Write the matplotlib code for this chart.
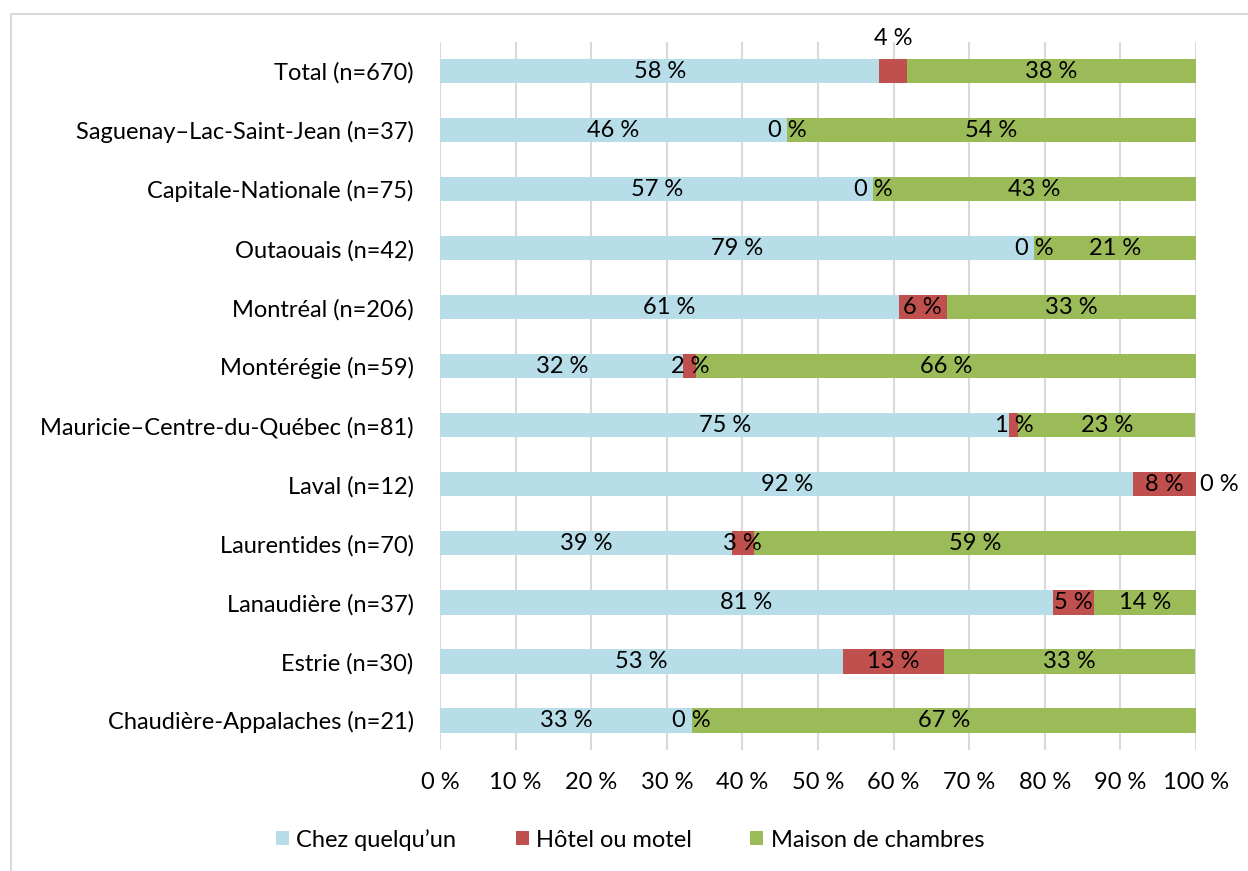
import matplotlib.pyplot as plt
from matplotlib.lines import Line2D
import numpy as np

plt.rcParams['font.family'] = ['Lato', 'DejaVu Sans']

# Données (%)
regions = ['Total (n=670)', 'Saguenay–Lac-Saint-Jean (n=37)', 'Capitale-Nationale (n=75)',
           'Outaouais (n=42)', 'Montréal (n=206)', 'Montérégie (n=59)',
           'Mauricie–Centre-du-Québec (n=81)', 'Laval (n=12)', 'Laurentides (n=70)',
           'Lanaudière (n=37)', 'Estrie (n=30)', 'Chaudière-Appalaches (n=21)']
chez_quelquun = [58.1, 45.9, 57.3, 78.6, 60.7, 32.2, 75.3, 91.7, 38.6, 81.1, 53.3, 33.3]
hotel_motel = [3.6, 0.0, 0.0, 0.0, 6.3, 1.7, 1.2, 8.3, 2.9, 5.4, 13.3, 0.0]
maison_chambres = [38.3, 54.1, 42.7, 21.4, 33.0, 66.1, 23.4, 0.0, 58.6, 13.5, 33.3, 66.7]
series_noms = ['Chez quelqu’un', 'Hôtel ou motel', 'Maison de chambres']
couleurs = ['#B7DDE8', '#C0504D', '#9BBB59']
xticks = list(range(0, 101, 10))

fig = plt.figure(figsize=(12.48, 8.71), dpi=100)
ax = fig.add_axes([0.3526, 0.139, 0.6058, 0.813])

y = np.arange(len(regions))
h = 0.41
gauche = np.zeros(len(regions))
fs = 17
for vals, nom, c in zip([chez_quelquun, hotel_motel, maison_chambres], series_noms, couleurs):
    vals = np.array(vals)
    ax.barh(y, vals, left=gauche, height=h, color=c, label=nom, zorder=2)
    for i, v in enumerate(vals):
        cx = gauche[i] + v / 2
        cy = y[i]
        ha = 'center'
        if i == 0 and nom == 'Hôtel ou motel':
            cy = y[i] - 0.55
        if regions[i].startswith('Laval') and nom == 'Maison de chambres':
            cx = gauche[i] + 0.5
            ha = 'left'
        ax.text(cx, cy, f'{round(v):d} %', ha=ha, va='center', fontsize=fs,
                color='#000000', zorder=3)
    gauche += vals

ax.set_xlim(0, 100)
ax.set_ylim(len(regions) - 0.5, -0.5)
ax.set_yticks(y)
ax.set_yticklabels(regions, fontsize=fs)
ax.set_xticks(xticks)
ax.set_xticklabels([f'{t} %' for t in xticks], fontsize=fs)
ax.tick_params(axis='y', length=0, pad=19)
ax.tick_params(axis='x', length=0, pad=16)
ax.grid(axis='x', color='#D9D9D9', linewidth=1.5, zorder=0)
ax.set_axisbelow(True)
for s in ax.spines.values():
    s.set_visible(False)

leg = fig.legend(loc='center', bbox_to_anchor=(0.505, 0.036), ncol=3, frameon=False,
                 fontsize=fs, handlelength=0.55, handleheight=0.55, handletextpad=0.3,
                 columnspacing=2.5)

# bordure de la zone du graphique
fig.add_artist(Line2D([11 / 1248, 1], [1 - 14 / 871, 1 - 14 / 871], color='#D9D9D9', lw=1.5))
fig.add_artist(Line2D([11 / 1248, 11 / 1248], [0, 1 - 14 / 871], color='#D9D9D9', lw=1.5))

fig.savefig('out.png', dpi=100, facecolor='white')
